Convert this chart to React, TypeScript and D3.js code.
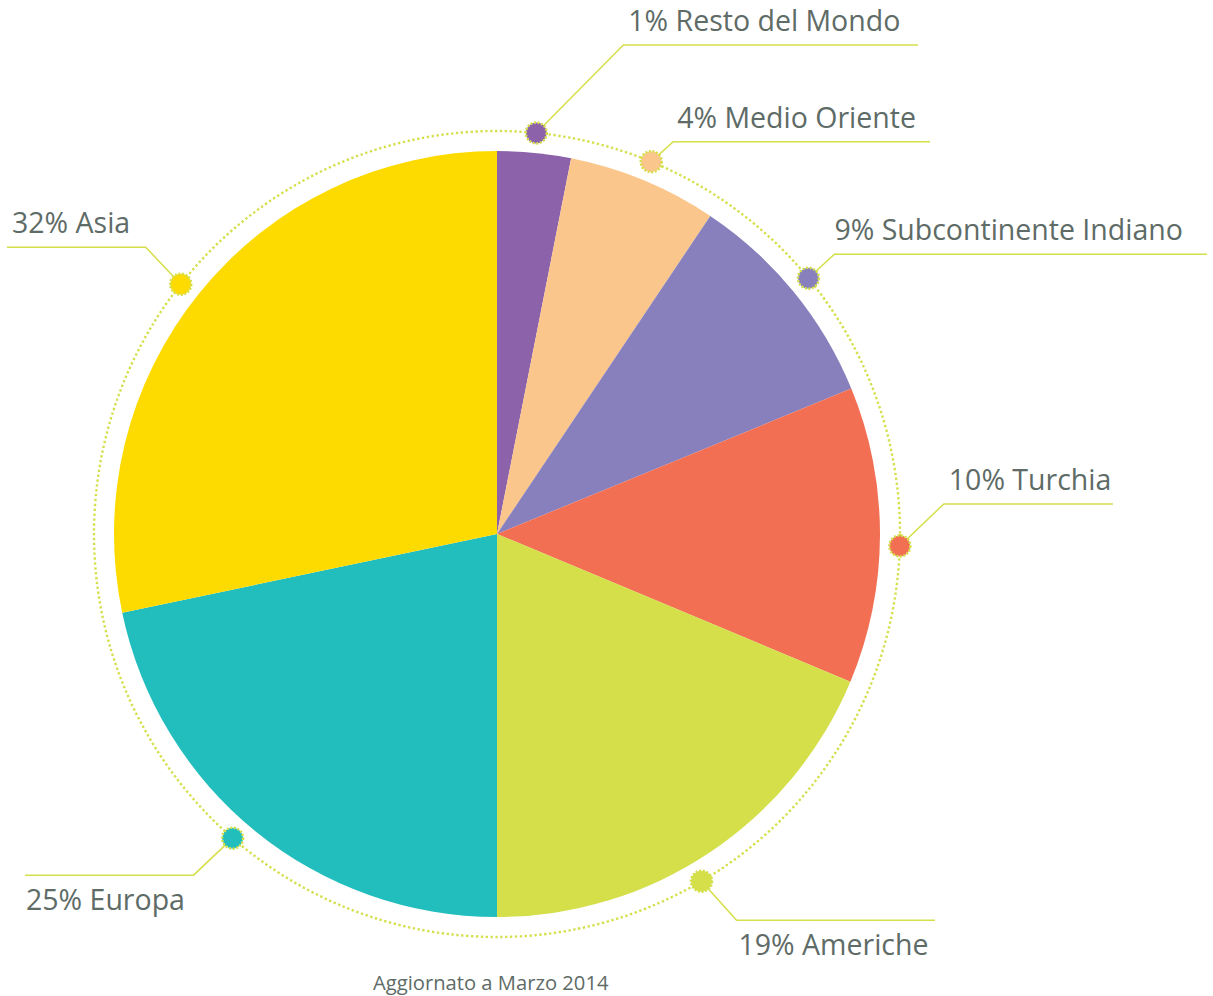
import React from "react";
import * as d3 from "d3";

// Data
const categories = ["Resto del Mondo", "Medio Oriente", "Subcontinente Indiano", "Turchia", "Americhe", "Europa", "Asia"];
const labelPercents = [1, 4, 9, 10, 19, 25, 32];
// slice shares as drawn in the picture
const sliceShares = [3.1, 6.3, 9.4, 12.5, 18.7, 21.7, 28.3];
const colors = ["#8C62AA", "#FBC68B", "#8780BD", "#F26F53", "#D4DF4A", "#22BDBD", "#FDDB00"];
const footer = "Aggiornato a Marzo 2014";

// Layout (per label): marker angle on ring (deg), elbow offset from marker, horizontal line end, text offset
const labelLayout = [
  { deg: 5.6, ex: 87, ey: -88, lineEnd: 918, tx: 5, above: true },
  { deg: 22.5, ex: 22, ey: -20, lineEnd: 930, tx: 4, above: true },
  { deg: 50.6, ex: 26, ey: -24, lineEnd: 1207, tx: 0, above: true },
  { deg: 91.7, ex: 44, ey: -42, lineEnd: 1113, tx: 5, above: true },
  { deg: 149.5, ex: 35, ey: 39, lineEnd: 935, tx: 2, above: false },
  { deg: 221, ex: -39, ey: 37, lineEnd: 25, tx: 1, above: false },
  { deg: 308.3, ex: -35, ey: -37, lineEnd: 7, tx: 5, above: true },
];

const W = 1213, H = 996;
const cx = 497, cy = 534;
const R = 383;
const ringR = 403;
const green = "#D4DF4A";
const textColor = "#5E6B66";
const font = "'Open Sans', 'Noto Sans', sans-serif";

export default function App() {
  const pie = d3.pie<number>().sort(null).value((d) => d);
  const arcs = pie(sliceShares);
  const arc = d3.arc<d3.PieArcDatum<number>>().innerRadius(0).outerRadius(R);

  return (
    <svg width={W} height={H} style={{ position: "absolute", left: 0, top: 0, background: "#fff" }}>
      <g transform={`translate(${cx},${cy})`}>
        {arcs.map((a, i) => (
          <path key={i} d={arc(a) || ""} fill={colors[i]} />
        ))}
        <circle r={ringR} fill="none" stroke={green} strokeWidth={2.4} strokeDasharray="2.3 2.6" />
      </g>
      {arcs.map((a, i) => {
        const L = labelLayout[i];
        const ang = (L.deg * Math.PI) / 180;
        const mx = cx + ringR * Math.sin(ang);
        const my = cy - ringR * Math.cos(ang);
        const exx = mx + L.ex;
        const eyy = my + L.ey;
        const right = L.lineEnd > exx;
        const text = `${labelPercents[i]}% ${categories[i]}`;
        const textX = right ? exx + L.tx : L.lineEnd + L.tx;
        const textY = L.above ? eyy - 14 : eyy + 35;
        return (
          <g key={i}>
            <polyline
              points={`${mx},${my} ${exx},${eyy} ${L.lineEnd},${eyy}`}
              fill="none"
              stroke={green}
              strokeWidth={1.5}
            />
            <circle cx={mx} cy={my} r={10.5} fill={colors[i]} stroke={green} strokeWidth={2.5} strokeDasharray="2 1.6" />
            <text x={textX} y={textY} fontFamily={font} fontSize={28.5} fill={textColor}>
              {text}
            </text>
          </g>
        );
      })}
      <text x={373} y={990} fontFamily={font} fontSize={20.2} fill={textColor}>
        {footer}
      </text>
    </svg>
  );
}
